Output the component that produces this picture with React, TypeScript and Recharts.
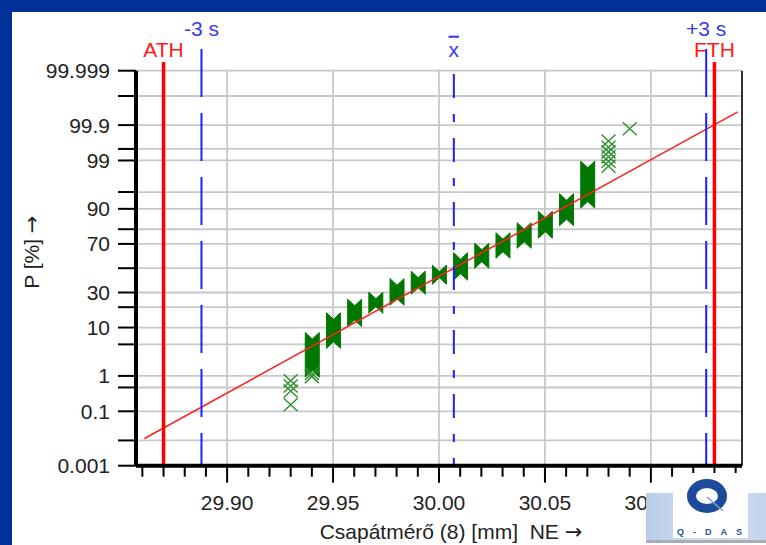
import React from "react";
import {
  ComposedChart,
  XAxis,
  YAxis,
  CartesianGrid,
  Line,
  Bar,
  Scatter,
  ReferenceLine,
} from "recharts";

// measured values (mm) whose points pile up into solid stacks,
// with the cumulative share (%) of the lowest and highest point of each stack
const stackValues = [29.94, 29.95, 29.96, 29.97, 29.98, 29.99, 30.0, 30.01, 30.02, 30.03, 30.04, 30.05, 30.06, 30.07];
const stackLowPct = [1.35, 5.6, 13.1, 20.3, 25.5, 33.7, 41.9, 45.3, 55.6, 63.9, 71.6, 78.5, 85.5, 92.5];
const stackHighPct = [6.3, 13.5, 20.9, 25.5, 35.7, 41.9, 47.0, 57.7, 65.5, 73.4, 80.0, 86.2, 92.9, 98.5];

// single points in the tails
const tailValues = [29.93, 29.93, 29.93, 29.93, 29.94, 29.94, 30.08, 30.08, 30.08, 30.08, 30.08, 30.08, 30.09];
const tailPct = [0.16, 0.4, 0.55, 0.75, 0.96, 1.15, 98.62, 98.95, 99.2, 99.4, 99.55, 99.7, 99.87];

const mean = 30.007;
const sigma = 0.0397;
const lowerLimit = 29.87; // ATH
const upperLimit = 30.13; // FTH
const fitEnds = [29.861, 30.141];

const yTickPct = [0.001, 0.01, 0.1, 0.5, 1, 5, 10, 20, 30, 50, 70, 80, 90, 95, 99, 99.5, 99.9, 99.99, 99.999];
const yLabelPct = [0.001, 0.1, 1, 10, 30, 70, 90, 99, 99.9, 99.999];
const xTicks = [
  29.86, 29.87, 29.88, 29.89, 29.9, 29.91, 29.92, 29.93, 29.94, 29.95, 29.96, 29.97, 29.98, 29.99, 30.0,
  30.01, 30.02, 30.03, 30.04, 30.05, 30.06, 30.07, 30.08, 30.09, 30.1, 30.11, 30.12, 30.13, 30.14,
];
const xMajor = [29.9, 29.95, 30.0, 30.05, 30.1];
const xDomain = [29.857, 30.143];

const FONT = "Liberation Sans, Arial, sans-serif";
const ARROW_FONT = "DejaVu Sans, sans-serif";
const FS = 21;

// inverse of the standard normal CDF (Acklam's approximation)
function probit(p: number): number {
  const a = [-39.69683028665376, 220.9460984245205, -275.9285104469687, 138.357751867269, -30.66479806614716, 2.506628277459239];
  const b = [-54.47609879822406, 161.5858368580409, -155.6989798598866, 66.80131188771972, -13.28068155288572];
  const c = [-0.007784894002430293, -0.3223964580411365, -2.400758277161838, -2.549671348283685, 4.374664141464968, 2.938163982698783];
  const d = [0.007784695709041462, 0.3224671290700398, 2.445134137142996, 3.754408661907416];
  const tail = (q: number) =>
    (((((c[0] * q + c[1]) * q + c[2]) * q + c[3]) * q + c[4]) * q + c[5]) /
    ((((d[0] * q + d[1]) * q + d[2]) * q + d[3]) * q + 1);
  if (p < 0.02425) return tail(Math.sqrt(-2 * Math.log(p)));
  if (p > 1 - 0.02425) return -tail(Math.sqrt(-2 * Math.log(1 - p)));
  const q = p - 0.5;
  const r = q * q;
  return (
    ((((((a[0] * r + a[1]) * r + a[2]) * r + a[3]) * r + a[4]) * r + a[5]) * q) /
    (((((b[0] * r + b[1]) * r + b[2]) * r + b[3]) * r + b[4]) * r + 1)
  );
}
const z = (pct: number) => probit(pct / 100);

const stacks = stackValues.map((v, i) => ({ v, range: [z(stackLowPct[i]), z(stackHighPct[i])] }));
const tails = tailValues.map((v, i) => ({ v, z: z(tailPct[i]) }));
const fit = fitEnds.map((v) => ({ v, z: (v - mean) / sigma }));
const yTicks = yTickPct.map(z);
const yDomain = [z(0.001), z(99.999)];

const isMajor = (v: number) => xMajor.some((m) => Math.abs(m - v) < 1e-6);

// vertical grid only at the labelled values
const majorGridX = ({ xAxis, offset }: any) =>
  xMajor.map((v) =>
    typeof xAxis?.scale === "function"
      ? xAxis.scale(v)
      : offset.left + ((v - xDomain[0]) / (xDomain[1] - xDomain[0])) * offset.width
  );

const XTick = (props: any) => {
  const { x, y, payload } = props;
  const major = isMajor(payload.value);
  return (
    <g>
      <line x1={x} x2={x} y1={y} y2={y + (major ? 17 : 11)} stroke="#000" strokeWidth={2} />
      {major && (
        <text x={x} y={y + 44} textAnchor="middle" fill="#222" fontSize={FS} fontFamily={FONT}>
          {payload.value.toFixed(2)}
        </text>
      )}
    </g>
  );
};

const yLabel = (val: number) => {
  const pct = yTickPct.find((p) => Math.abs(z(p) - val) < 1e-6);
  return pct !== undefined && yLabelPct.includes(pct) ? String(pct) : "";
};

// a pile of X markers merges into a bar with notched ends
const StackShape = (props: any) => {
  const { x, y, width, height } = props;
  const top = Math.min(y, y + height);
  const bottom = Math.max(y, y + height);
  const cx = x + width / 2;
  const h = 6.5;
  const d = `M${x},${top - h} L${cx},${top} L${x + width},${top - h} L${x + width},${bottom + h} L${cx},${bottom} L${x},${bottom + h} Z`;
  return <path d={d} fill="#007800" stroke="#007800" strokeWidth={1} />;
};

const Cross = (props: any) => {
  const { cx, cy } = props;
  return (
    <path
      d={`M${cx - 7},${cy - 6.5} L${cx + 7},${cy + 6.5} M${cx + 7},${cy - 6.5} L${cx - 7},${cy + 6.5}`}
      stroke="#2e8f2e"
      strokeWidth={1.4}
      fill="none"
    />
  );
};

type MarkerOpts = {
  color: string;
  width: number;
  dash?: string;
  dashOffset?: number;
  rise: number;
  text: string;
  textColor: string;
  textDy: number;
  overline?: boolean;
};

const markerShape = (o: MarkerOpts) => (props: any) => {
  const { x1, y1, y2 } = props;
  const top = Math.min(y1, y2);
  const bottom = Math.max(y1, y2);
  return (
    <g>
      <line
        x1={x1}
        x2={x1}
        y1={top - o.rise}
        y2={bottom}
        stroke={o.color}
        strokeWidth={o.width}
        strokeDasharray={o.dash}
        strokeDashoffset={o.dashOffset}
      />
      <text
        x={x1}
        y={top + o.textDy}
        textAnchor="middle"
        fill={o.textColor}
        fontSize={FS}
        fontFamily={FONT}
        style={o.overline ? { textDecoration: "overline" } : undefined}
      >
        {o.text}
      </text>
    </g>
  );
};

const YTitle = (props: any) => {
  const vb = props.viewBox;
  const cx = vb.x + 20;
  const cy = vb.y + vb.height / 2 - 16;
  return (
    <text
      x={cx}
      y={cy}
      transform={`rotate(-90 ${cx} ${cy})`}
      textAnchor="middle"
      dominantBaseline="central"
      fill="#222"
      fontSize={FS}
      fontFamily={FONT}
    >
      P [%] <tspan fontFamily={ARROW_FONT}>→</tspan>
    </text>
  );
};

const XTitle = (props: any) => {
  const vb = props.viewBox;
  return (
    <text
      x={vb.x + vb.width / 2 + 12}
      y={vb.y + 73}
      textAnchor="middle"
      fill="#222"
      fontSize={FS}
      fontFamily={FONT}
      style={{ whiteSpace: "pre" }}
    >
      Csapátmérő (8) [mm]  NE <tspan fontFamily={ARROW_FONT}>→</tspan>
    </text>
  );
};

const Logo = () => (
  <svg width={120} height={72} style={{ position: "absolute", left: 646, top: 473 }}>
    <defs>
      <linearGradient id="logoBand" x1="0" y1="0" x2="1" y2="0">
        <stop offset="0%" stopColor="#b7cbe8" />
        <stop offset="50%" stopColor="#d6e2f2" />
        <stop offset="100%" stopColor="#c3d4ec" />
      </linearGradient>
    </defs>
    <rect x={0} y={20} width={120} height={49} fill="url(#logoBand)" />
    <rect x={0} y={67} width={120} height={3} fill="#a9adb5" />
    <rect x={27} y={0} width={75} height={65} fill="#ffffff" />
    <ellipse cx={61} cy={23} rx={15.5} ry={12.5} fill="none" stroke="#1d4b9c" strokeWidth={9} />
    <line x1={61} y1={24} x2={77} y2={38} stroke="#7d9bd6" strokeWidth={1.5} />
    <text x={31} y={62} fontSize={9} fontWeight="bold" fill="#2a4f9e" fontFamily={FONT} letterSpacing={9}>
      Q-DAS
    </text>
  </svg>
);

export default function App() {
  return (
    <div style={{ position: "absolute", left: 0, top: 0, width: 766, height: 545, background: "#003399" }}>
      <div style={{ position: "absolute", left: 12, top: 12, width: 754, height: 533, background: "#ffffff" }}>
        <ComposedChart
          width={754}
          height={533}
          data={stacks}
          margin={{ top: 58.7, right: 24, left: 0, bottom: 0 }}
        >
          <CartesianGrid stroke="#c8c8c8" strokeWidth={1.8} verticalCoordinatesGenerator={majorGridX} />
          <XAxis
            type="number"
            dataKey="v"
            domain={xDomain}
            ticks={xTicks}
            interval={0}
            allowDataOverflow
            height={79.3}
            tickLine={false}
            tickSize={0}
            tickMargin={0}
            tick={<XTick />}
            axisLine={{ stroke: "#000", strokeWidth: 4 }}
            label={<XTitle />}
          />
          <YAxis
            type="number"
            dataKey="z"
            domain={yDomain}
            ticks={yTicks}
            interval={0}
            allowDataOverflow
            width={124}
            tickSize={18}
            tickMargin={8}
            tickLine={{ stroke: "#000", strokeWidth: 2 }}
            axisLine={{ stroke: "#000", strokeWidth: 4 }}
            tick={{ fill: "#222", fontSize: FS, fontFamily: FONT }}
            tickFormatter={yLabel}
            label={<YTitle />}
          />
          <Bar dataKey="range" barSize={14} shape={<StackShape />} isAnimationActive={false} />
          <Scatter data={tails} shape={<Cross />} isAnimationActive={false} />
          <Line
            data={fit}
            dataKey="z"
            type="linear"
            stroke="#ff2020"
            strokeWidth={1.5}
            dot={false}
            activeDot={false}
            isAnimationActive={false}
          />
          <ReferenceLine x={xDomain[1]} stroke="#333" strokeWidth={2} />
          <ReferenceLine
            x={lowerLimit}
            shape={markerShape({ color: "#ff0000", width: 3.5, rise: 8.7, text: "ATH", textColor: "#ff1a1a", textDy: -13.7 })}
          />
          <ReferenceLine
            x={upperLimit}
            shape={markerShape({ color: "#ff0000", width: 3.5, rise: 8.7, text: "FTH", textColor: "#ff1a1a", textDy: -13.7 })}
          />
          <ReferenceLine
            x={mean - 3 * sigma}
            shape={markerShape({ color: "#1f1fff", width: 2, dash: "48 16", dashOffset: 58, rise: 27.7, text: "-3 s", textColor: "#3a3af0", textDy: -35.2 })}
          />
          <ReferenceLine
            x={mean + 3 * sigma}
            shape={markerShape({ color: "#1f1fff", width: 2, dash: "48 16", dashOffset: 58, rise: 27.7, text: "+3 s", textColor: "#3a3af0", textDy: -35.2 })}
          />
          <ReferenceLine
            x={mean}
            shape={markerShape({ color: "#1f1fff", width: 2, dash: "24 16 8 16", dashOffset: 56, rise: 4.7, text: "x", textColor: "#3a3af0", textDy: -14, overline: true })}
          />
        </ComposedChart>
      </div>
      <Logo />
    </div>
  );
}
